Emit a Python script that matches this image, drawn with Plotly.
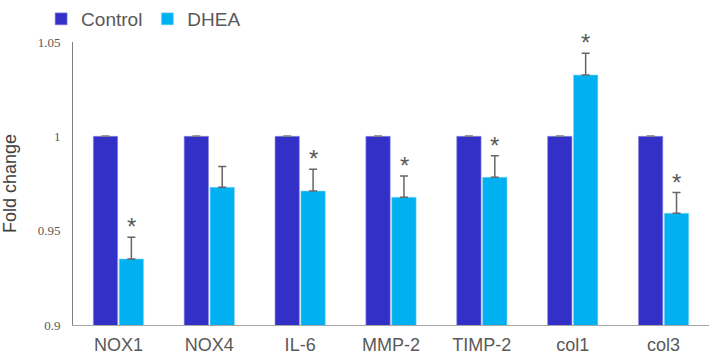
import plotly.graph_objects as go

categories = ["NOX1", "NOX4", "IL-6", "MMP-2", "TIMP-2", "col1", "col3"]
control_vals = [1, 1, 1, 1, 1, 1, 1]
control_err = [0.0003, 0.0003, 0.0003, 0.0003, 0.0003, 0.0003, 0.0003]
dhea_vals = [0.935, 0.973, 0.971, 0.9677, 0.9783, 1.0325, 0.9592]
dhea_err = [0.0115, 0.011, 0.0115, 0.0113, 0.0114, 0.0115, 0.0110]
significant = [True, False, True, True, True, True, True]
ytick_vals = [0.9, 0.95, 1.0, 1.05]
ytick_text = ["0.9", "0.95", "1", "1.05"]

zeros = [0] * len(categories)

fig = go.Figure()
fig.add_trace(go.Bar(
    x=categories, y=control_vals, name="Control",
    marker=dict(color="#3330C8", line=dict(color="#8F8DE8", width=0.6)),
    error_y=dict(type="data", array=control_err, arrayminus=zeros, symmetric=False,
                 visible=True, color="#7F7F7F", thickness=1.2, width=4),
))
fig.add_trace(go.Bar(
    x=categories, y=dhea_vals, name="DHEA",
    marker=dict(color="#00B0F0", line=dict(color="#7FD5F6", width=0.6)),
    error_y=dict(type="data", array=dhea_err, arrayminus=zeros, symmetric=False,
                 visible=True, color="#666666", thickness=1.5, width=4),
))

annotations = []
for c, v, e, s in zip(categories, dhea_vals, dhea_err, significant):
    if s:
        annotations.append(dict(
            x=c, y=v + e, xref="x", yref="y", text="*", showarrow=False,
            xshift=13, yshift=-5, yanchor="bottom",
            font=dict(family="Arial", size=24, color="#595959"),
        ))

fig.update_layout(
    width=709, height=358,
    margin=dict(l=73, r=0, t=42, b=33, autoexpand=False),
    paper_bgcolor="white", plot_bgcolor="white",
    barmode="group", bargap=0.43, bargroupgap=0.06,
    showlegend=True,
    legend=dict(orientation="h", xref="container", yref="container",
                x=0.058, y=1.0, xanchor="left", yanchor="top",
                font=dict(family="Arial", size=19, color="#595959"),
                itemwidth=30, traceorder="normal", bgcolor="rgba(0,0,0,0)"),
    annotations=annotations,
    xaxis=dict(showline=True, linecolor="#A6A6A6", linewidth=1.2, ticks="",
               automargin=False, ticklabelstandoff=3,
               tickfont=dict(family="Arial", size=18, color="#595959"), showgrid=False),
    yaxis=dict(range=[0.9, 1.05], tickvals=ytick_vals, ticktext=ytick_text,
               showline=True, linecolor="#7F7F7F", linewidth=1, ticks="", showgrid=False,
               zeroline=False, ticklabelstandoff=9, automargin=False,
               tickfont=dict(family="Liberation Serif", size=13, color="#595959"),
               title=dict(text="Fold change", font=dict(family="Arial", size=18, color="#404040"), standoff=28)),
)

# remove the browser's default 8px body margin so the figure fills the window exactly
fig.write_html("out.html", config={"displayModeBar": False},
               post_script="document.body.style.margin='0';")
